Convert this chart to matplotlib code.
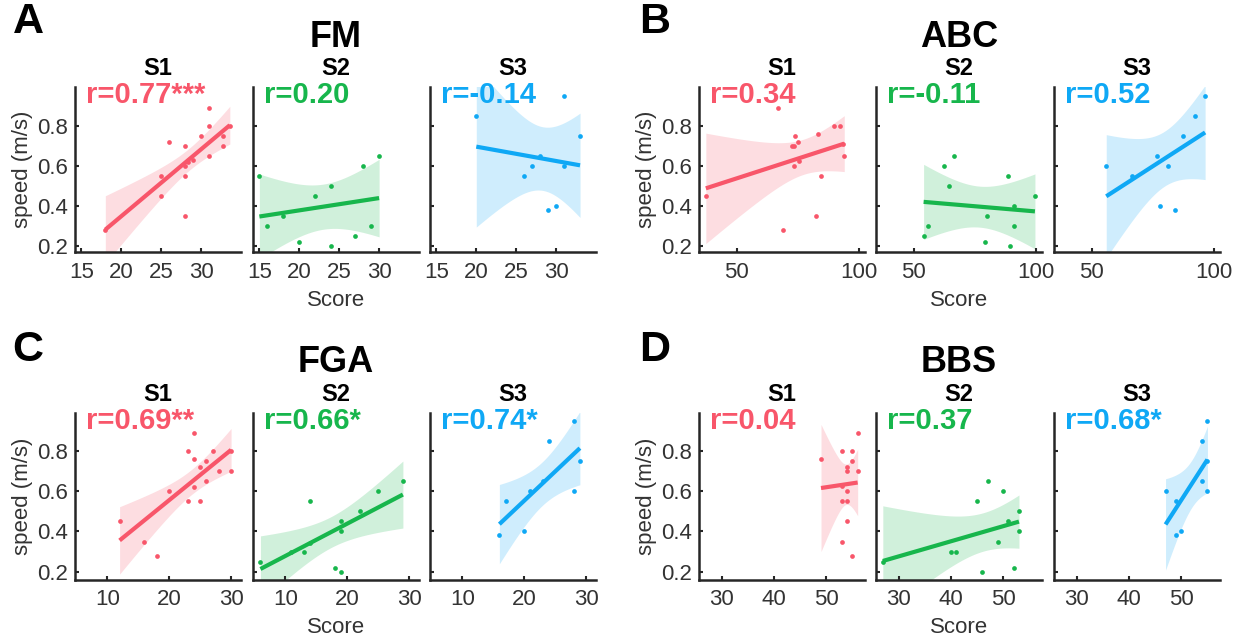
import numpy as np
import matplotlib
matplotlib.use('Agg')
import matplotlib.pyplot as plt

plt.rcParams['font.family'] = ['Liberation Sans', 'DejaVu Sans']

red = '#f8566a'
green = '#17b64c'
blue = '#0fa8f5'
dark = '#262626'

# ---- FM (panel A) ----
fm_s1_x = [31, 31, 30, 26, 28, 32.7, 33.6, 32.7, 31, 28, 29, 25, 28, 25, 28, 18, 28.3]
fm_s1_y = [0.89, 0.80, 0.75, 0.72, 0.70, 0.75, 0.80, 0.70, 0.65, 0.60, 0.63, 0.55, 0.55, 0.45, 0.35, 0.28, 0.62]
fm_s2_x = [15, 16, 18, 20, 22, 24, 24, 27, 28, 29, 30]
fm_s2_y = [0.55, 0.30, 0.35, 0.22, 0.45, 0.50, 0.20, 0.25, 0.60, 0.30, 0.65]
fm_s3_x = [20, 31, 33, 28, 27, 26, 31, 30, 29]
fm_s3_y = [0.85, 0.95, 0.75, 0.65, 0.60, 0.55, 0.60, 0.40, 0.38]

# ---- ABC (panel B) ----
abc_s1_x = [37.3, 66.9, 69, 72.7, 73.8, 73.4, 75.2, 75.5, 83.3, 82.6, 84.6, 90, 92.4, 93.5, 94, 73.4]
abc_s1_y = [0.45, 0.89, 0.28, 0.70, 0.75, 0.60, 0.72, 0.625, 0.76, 0.35, 0.55, 0.80, 0.80, 0.71, 0.65, 0.70]
abc_s2_x = [54, 56, 62.4, 64.5, 66.5, 79, 80, 88.7, 89.4, 91, 91, 99.6]
abc_s2_y = [0.25, 0.30, 0.60, 0.50, 0.65, 0.22, 0.35, 0.55, 0.20, 0.30, 0.40, 0.45]
abc_s3_x = [55.9, 66.5, 76.6, 77.8, 81.4, 84.2, 87.2, 92.3, 96.4]
abc_s3_y = [0.60, 0.55, 0.65, 0.40, 0.60, 0.38, 0.75, 0.85, 0.95]

# ---- FGA (panel C) ----
fga_s1_x = [12, 16, 18, 20, 23, 23, 24, 24, 24, 25, 25, 26, 26, 27, 28, 30, 30]
fga_s1_y = [0.45, 0.35, 0.28, 0.60, 0.80, 0.55, 0.89, 0.76, 0.62, 0.72, 0.55, 0.75, 0.65, 0.80, 0.70, 0.80, 0.70]
fga_s2_x = [6, 11, 13, 14, 14, 18, 19, 19, 19, 22, 25, 29]
fga_s2_y = [0.25, 0.30, 0.30, 0.55, 0.345, 0.22, 0.20, 0.45, 0.40, 0.50, 0.60, 0.65]
fga_s3_x = [16, 17, 20, 21, 23, 24, 28, 28, 29]
fga_s3_y = [0.38, 0.55, 0.40, 0.60, 0.65, 0.85, 0.95, 0.60, 0.75]

# ---- BBS (panel D) ----
bbs_s1_x = [49, 53, 55, 56, 54, 54, 55, 56, 54, 53, 54, 54, 53, 55, 53]
bbs_s1_y = [0.76, 0.80, 0.80, 0.89, 0.72, 0.70, 0.75, 0.70, 0.60, 0.55, 0.55, 0.45, 0.35, 0.28, 0.625]
bbs_s2_x = [40, 41, 45, 46, 47, 49, 50, 51, 52, 53, 53, 27]
bbs_s2_y = [0.30, 0.30, 0.55, 0.20, 0.65, 0.35, 0.60, 0.45, 0.22, 0.50, 0.40, 0.25]
bbs_s3_x = [47, 49, 49, 50, 54, 54, 55, 55, 55]
bbs_s3_y = [0.60, 0.55, 0.38, 0.40, 0.85, 0.65, 0.95, 0.60, 0.75]

r_labels = {
    'FM': ['r=0.77***', 'r=0.20', 'r=-0.14'],
    'ABC': ['r=0.34', 'r=-0.11', 'r=0.52'],
    'FGA': ['r=0.69**', 'r=0.66*', 'r=0.74*'],
    'BBS': ['r=0.04', 'r=0.37', 'r=0.68*'],
}

# t quantiles (0.975) for the confidence band
t975 = {7: 2.365, 8: 2.306, 9: 2.262, 10: 2.228, 11: 2.201, 12: 2.179,
        13: 2.160, 14: 2.145, 15: 2.131, 16: 2.120, 17: 2.110}


def fit_plot(ax, x, y, col):
    x = np.asarray(x, float)
    y = np.asarray(y, float)
    n = len(x)
    b, a = np.polyfit(x, y, 1)
    xs = np.linspace(x.min(), x.max(), 80)
    yh = a + b * xs
    res = y - (a + b * x)
    s = np.sqrt(np.sum(res ** 2) / (n - 2))
    sxx = np.sum((x - x.mean()) ** 2)
    half = t975[n - 2] * s * np.sqrt(1.0 / n + (xs - x.mean()) ** 2 / sxx)
    ax.fill_between(xs, yh - half, yh + half, color=col, alpha=0.2, lw=0, zorder=1)
    ax.plot(xs, yh, color=col, lw=3, zorder=2, solid_capstyle='butt')
    ax.plot(x, y, 'o', color=col, ms=3.4, mec='none', zorder=3)


fig = plt.figure(figsize=(12.45, 6.42), dpi=100, facecolor='white')

W, H = 1245., 642.
lefts = [75, 253, 430, 699, 876, 1054]
aw = 166 / W
rows = {0: (0.607, 0.258), 1: (0.097, 0.260)}

panels = [
    ('A', 'FM', 0, 0, [(fm_s1_x, fm_s1_y), (fm_s2_x, fm_s2_y), (fm_s3_x, fm_s3_y)],
     (14.2, 35), [15, 20, 25, 30], (0.17, 0.995)),
    ('B', 'ABC', 0, 1, [(abc_s1_x, abc_s1_y), (abc_s2_x, abc_s2_y), (abc_s3_x, abc_s3_y)],
     (34.5, 102.5), [50, 100], (0.17, 0.995)),
    ('C', 'FGA', 1, 0, [(fga_s1_x, fga_s1_y), (fga_s2_x, fga_s2_y), (fga_s3_x, fga_s3_y)],
     (4.8, 31.6), [10, 20, 30], (0.16, 0.99)),
    ('D', 'BBS', 1, 1, [(bbs_s1_x, bbs_s1_y), (bbs_s2_x, bbs_s2_y), (bbs_s3_x, bbs_s3_y)],
     (25.7, 57.4), [30, 40, 50], (0.16, 0.99)),
]
cols = [red, green, blue]
lab = '#333333'

for letter, name, row, half, data, xl, xt, yl in panels:
    bottom, hgt = rows[row]
    for k in range(3):
        left = lefts[half * 3 + k] / W
        ax = fig.add_axes([left, bottom, aw, hgt])
        fit_plot(ax, data[k][0], data[k][1], cols[k])
        ax.set_xlim(*xl)
        ax.set_ylim(*yl)
        ax.set_xticks(xt)
        ax.set_yticks([0.2, 0.4, 0.6, 0.8])
        for sp in ['top', 'right']:
            ax.spines[sp].set_visible(False)
        for sp in ['left', 'bottom']:
            ax.spines[sp].set_linewidth(1.8)
            ax.spines[sp].set_color(dark)
        ax.tick_params(direction='in', length=3, width=1.5, colors=dark,
                       labelcolor=lab, labelsize=16, pad=5)
        ax.tick_params(axis='x', pad=7)
        if k == 0:
            ax.set_yticklabels(['0.2', '0.4', '0.6', '0.8'])
            ax.set_ylabel('speed (m/s)', fontsize=16, color=lab, labelpad=3)
        else:
            ax.set_yticklabels([])
        if k == 1:
            ax.set_xlabel('Score', fontsize=16, color=lab, labelpad=5)
            ax.text(0.5, 1.242, name, transform=ax.transAxes, ha='center',
                    va='baseline', fontsize=26, fontweight='bold', color='black')
        ax.text(0.5, 1.073, 'S%d' % (k + 1), transform=ax.transAxes, ha='center',
                va='baseline', fontsize=17, fontweight='bold', color='black')
        ax.text(0.066, 0.903, r_labels[name][k], transform=ax.transAxes, ha='left',
                va='baseline', fontsize=21, fontweight='bold', color=cols[k])
    lx = 28 if half == 0 else 655
    ly = 22 if row == 0 else 350
    fig.text(lx / W, 1 - ly / H, letter, ha='center', va='center',
             fontsize=31, fontweight='bold', color='black')

fig.savefig('out.png', dpi=100, facecolor='white')
